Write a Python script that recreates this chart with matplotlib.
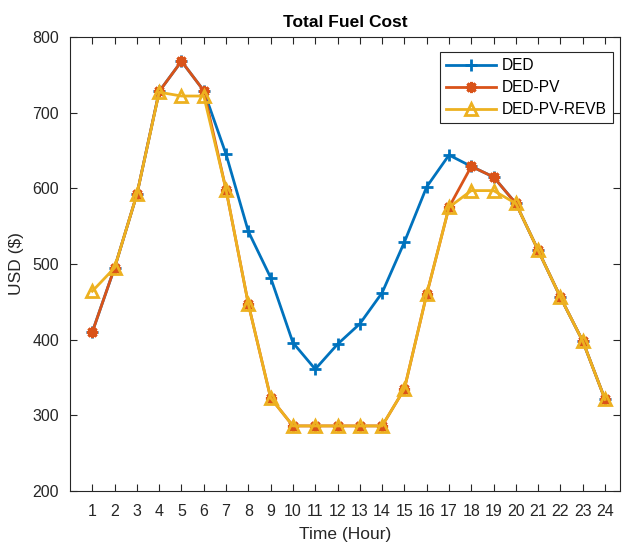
import matplotlib
matplotlib.use("Agg")
import matplotlib.pyplot as plt

plt.rcParams['font.family'] = ['Liberation Sans', 'DejaVu Sans']

hours = list(range(1, 25))
ded = [410, 495, 592, 728, 768, 729, 645, 543, 482, 396, 361, 394,
       421, 462, 529, 602, 644, 629, 615, 580, 518, 456, 398, 321]
ded_pv = [410, 495, 592, 728, 768, 729, 598, 447, 323, 286, 286, 286,
          286, 286, 335, 460, 575, 629, 615, 580, 518, 456, 398, 321]
ded_pv_revb = [464, 495, 592, 727, 722, 722, 598, 447, 323, 286, 286, 286,
               286, 286, 335, 460, 575, 597, 597, 580, 518, 456, 398, 321]
series_names = ["DED", "DED-PV", "DED-PV-REVB"]
title = "Total Fuel Cost"
xlabel = "Time (Hour)"
ylabel = "USD ($)"

c_blue = '#0072BD'
c_red = '#D95319'
c_yel = '#EDB120'
axcol = '#262626'

fig = plt.figure(figsize=(6.27, 5.42), dpi=100)
ax = fig.add_axes([70/627, 1-491/542, (620-70)/627, (491-37)/542])

ax.plot(hours, ded, color=c_blue, lw=2, marker='+', ms=9, mew=2, label=series_names[0])
ax.plot(hours, ded_pv, color=c_red, lw=2, marker=(8, 2, 0), ms=8, mew=2.2, label=series_names[1])
ax.plot(hours, ded_pv_revb, color=c_yel, lw=2, marker='^', ms=9, mew=2, mfc='none', label=series_names[2])

ax.set_xlim(0, 24.67)
ax.set_ylim(200, 800)
ax.set_xticks(hours)
ax.set_yticks(range(200, 801, 100))
ax.tick_params(direction='in', top=True, right=True, length=5, width=0.8,
               colors=axcol, labelsize=11.5, labelcolor=axcol)
ax.tick_params(axis='x', pad=9)
ax.tick_params(axis='y', pad=8)
for s in ax.spines.values():
    s.set_color(axcol)
    s.set_linewidth(0.8)

ax.set_title(title, fontsize=12.5, fontweight='bold', pad=7)
ax.set_xlabel(xlabel, fontsize=12.5, color=axcol, labelpad=6)
ax.set_ylabel(ylabel, fontsize=12.5, color=axcol, labelpad=6)

leg = ax.legend(loc='upper right', bbox_to_anchor=(0.987, 0.967), fontsize=11.2,
                frameon=True, fancybox=False, edgecolor=axcol, framealpha=1,
                handlelength=3.2, borderpad=0.4, labelspacing=0.45, handletextpad=0.35,
                borderaxespad=0)
leg.get_frame().set_linewidth(0.8)

fig.savefig("out.png", dpi=100)
